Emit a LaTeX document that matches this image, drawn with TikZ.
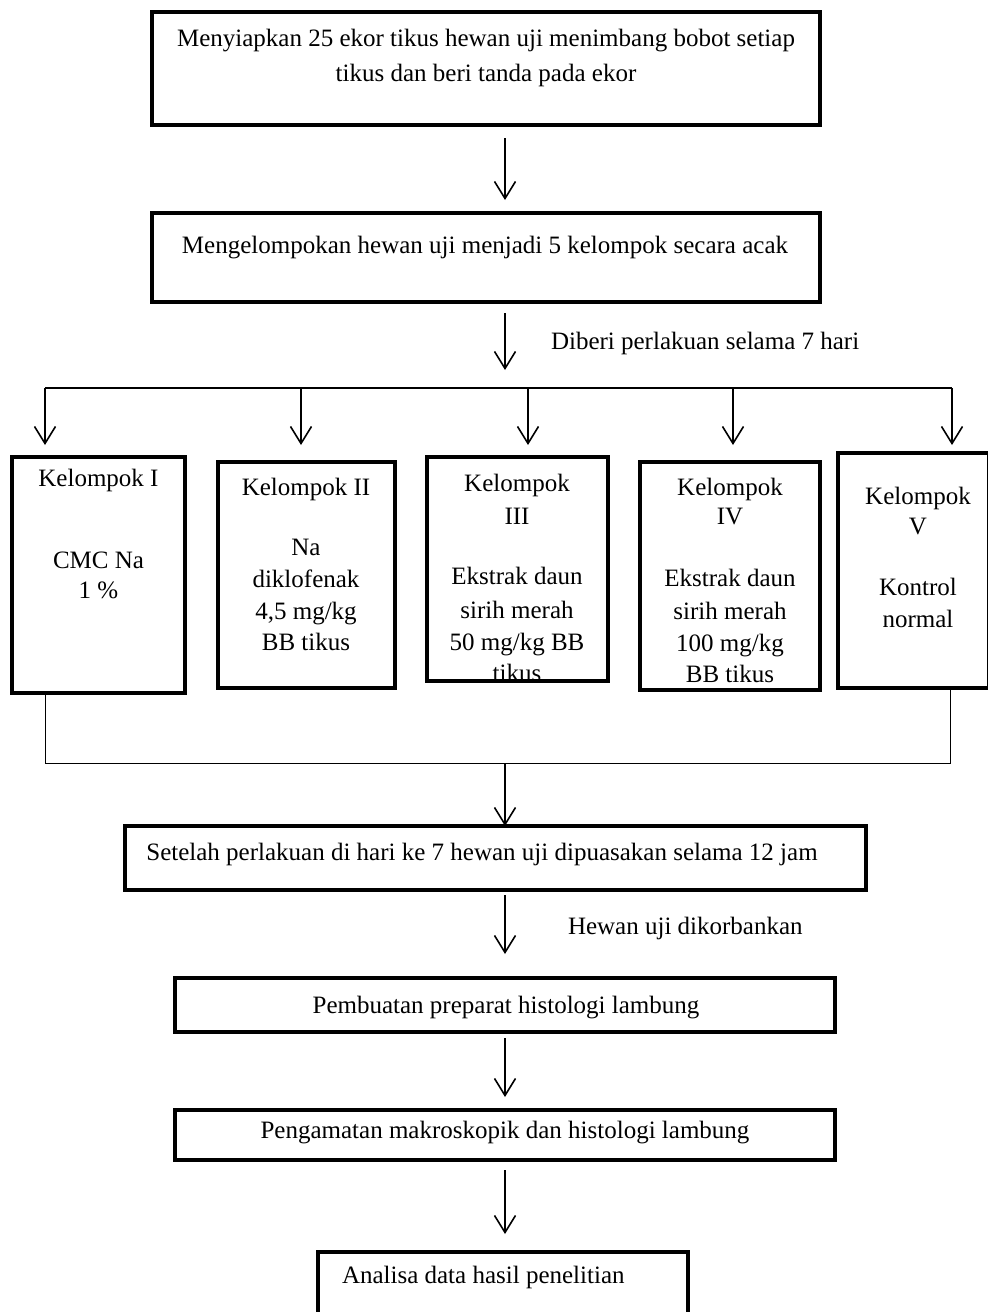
\documentclass[tikz,border=0pt]{standalone}
\usepackage{fontspec}
\setmainfont{Liberation Serif}
\usetikzlibrary{arrows.meta,calc}
\begin{document}
\begin{tikzpicture}[x=1pt,y=-1pt,
  every node/.style={font=\fontsize{25}{32}\selectfont, inner sep=0pt, outer sep=0pt},
  boxthick/.style={draw, line width=3.5pt},
  flow/.style={line width=1.6pt, -{Straight Barb[length=17pt,width=21pt,line width=1.6pt]}},
  branchline/.style={line width=1.3pt},
  thinline/.style={line width=1pt},
  txt/.style={anchor=base}]
\useasboundingbox (0,0) rectangle (988,1312);
\clip (0,0) rectangle (988,1312);
\fill[white] (0,0) rectangle (988,1312);

% main boxes
\node[boxthick, minimum width=668pt, minimum height=113pt] (b1) at (486,68.5) {};
\node[boxthick, minimum width=668pt, minimum height=89pt] (b2) at (486,257.5) {};
\node[boxthick, minimum width=741pt, minimum height=64pt] (b3) at (495.5,858) {};
\node[boxthick, minimum width=660pt, minimum height=54pt] (b4) at (505,1005) {};
\node[boxthick, minimum width=660pt, minimum height=50pt] (b5) at (505,1135) {};
\node[boxthick, minimum width=370pt, minimum height=88pt] (b6) at (503,1296) {};

% group boxes
\node[boxthick, minimum width=173pt, minimum height=236pt] (g1) at (98.5,575) {};
\node[boxthick, minimum width=177pt, minimum height=226pt] (g2) at (306.5,575) {};
\node[boxthick, minimum width=181pt, minimum height=224pt] (g3) at (517.5,569) {};
\node[boxthick, minimum width=180pt, minimum height=228pt] (g4) at (730,576) {};
\node[boxthick, minimum width=151pt, minimum height=235pt] (g5) at (913.5,570.5) {};

% texts of main boxes
\node[txt] (t1a) at (486,46) {Menyiapkan 25 ekor tikus hewan uji menimbang bobot setiap};
\node[txt] (t1b) at (486,81) {tikus dan beri tanda pada ekor};
\node[txt] (t2) at (485,253) {Mengelompokan hewan uji menjadi 5 kelompok secara acak};
\node[txt] (t3) at (482,860) {Setelah perlakuan di hari ke 7 hewan uji dipuasakan selama 12 jam};
\node[txt] (t4) at (506,1013) {Pembuatan preparat histologi lambung};
\node[txt] (t5) at (505,1138) {Pengamatan makroskopik dan histologi lambung};
\node[txt, anchor=base west] (t6) at (342,1283) {Analisa data hasil penelitian};

% side labels
\node[txt, anchor=base west] (l1) at (551,349) {Diberi perlakuan selama 7 hari};
\node[txt, anchor=base west] (l2) at (568,934) {Hewan uji dikorbankan};

% group texts (clipped inside their boxes)
\begin{scope}
\clip (g1.north west) rectangle (g1.south east);
\foreach \t/\yy [count=\i] in {{Kelompok I}/486, {CMC Na}/568, {1 \%}/598}
  \node[txt] (ga\i) at (98.5,\yy) {\t};
\end{scope}
\begin{scope}
\clip (g2.north west) rectangle (g2.south east);
\foreach \t/\yy [count=\i] in {{Kelompok II}/495, {Na}/555, {diklofenak}/587, {4,5 mg/kg}/619, {BB tikus}/650}
  \node[txt] (gb\i) at (306,\yy) {\t};
\end{scope}
\begin{scope}
\clip (g3.north west) rectangle (g3.south east);
\foreach \t/\yy [count=\i] in {{Kelompok}/491, {III}/524, {Ekstrak daun}/584, {sirih merah}/618, {50 mg/kg BB}/650, {tikus}/681}
  \node[txt] (gc\i) at (517,\yy) {\t};
\end{scope}
\begin{scope}
\clip (g4.north west) rectangle (g4.south east);
\foreach \t/\yy [count=\i] in {{Kelompok}/495, {IV}/524, {Ekstrak daun}/586, {sirih merah}/619, {100 mg/kg}/651, {BB tikus}/682}
  \node[txt] (gd\i) at (730,\yy) {\t};
\end{scope}
\begin{scope}
\clip (g5.north west) rectangle (g5.south east);
\foreach \t/\yy [count=\i] in {{Kelompok}/504, {V}/534, {Kontrol}/595, {normal}/627}
  \node[txt] (ge\i) at (918,\yy) {\t};
\end{scope}

% vertical arrows of the main line
\coordinate (ax) at (505,0);
\draw[flow] ($(b1.south -| ax)+(0,13)$) -- ($(b2.north -| ax)+(0,-13)$);
\coordinate (br) at (505,388);
\draw[flow] ($(b2.south -| ax)+(0,11)$) -- ($(br)+(0,-18)$);

% branching to the five groups
\coordinate (br1) at (45,388);
\coordinate (br2) at (301,388);
\coordinate (br3) at (528,388);
\coordinate (br4) at (733,388);
\coordinate (br5) at (952,388);
\draw[branchline] (br1) -- (br5);
\foreach \k in {1,...,5}
  \draw[flow] (br\k) -- ($(br\k)+(0,57)$);

% collecting lines
\coordinate (c1) at (45,763);
\coordinate (c5) at (950,763);
\coordinate (cm) at (505,763);
\draw[thinline] (g1.south -| c1) -- (c1) -- (c5) -- (g5.south -| c5);
\draw[flow] (cm) -- (b3.north -| ax);

\draw[flow] ($(b3.south -| ax)+(0,5)$) -- ($(b4.north -| ax)+(0,-24)$);
\draw[flow] ($(b4.south -| ax)+(0,6)$) -- ($(b5.north -| ax)+(0,-13)$);
\draw[flow] ($(b5.south -| ax)+(0,10)$) -- ($(b6.north -| ax)+(0,-18)$);
\end{tikzpicture}
\end{document}
